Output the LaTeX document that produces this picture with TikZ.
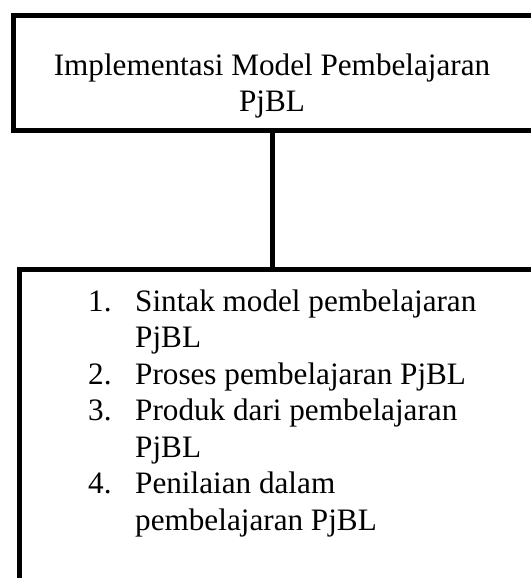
\documentclass[tikz,border=0pt]{standalone}
\usepackage{fontspec}
\setmainfont{Liberation Serif}
\newcommand{\itemno}[1]{\makebox[47bp][l]{#1}}
\begin{document}
\begin{tikzpicture}[x=1bp,y=-1bp,
    frame/.style={draw, line width=5bp, anchor=north west, inner sep=0pt, outer sep=0pt},
    label/.style={font=\fontsize{31.3}{36.6}\selectfont, inner sep=0pt},
    link/.style={draw, line width=5bp}]
    \useasboundingbox (0,0) rectangle (531,578);
    \clip (0,0) rectangle (531,578);
    % Top box
    \node[frame, minimum width=600bp, minimum height=114bp] (topbox) at (13.5,16) {};
    \node[label, align=center, anchor=base] (title) at (272,112) {Implementasi Model Pembelajaran\\PjBL};
    % Bottom box
    \node[frame, minimum width=600bp, minimum height=400bp] (listbox) at (19.5,269) {};
    \node[label, align=left, anchor=base west] (items) at (88,530) {%
        \itemno{1.}Sintak model pembelajaran\\
        \itemno{}PjBL\\
        \itemno{2.}Proses pembelajaran PjBL\\
        \itemno{3.}Produk dari pembelajaran\\
        \itemno{}PjBL\\
        \itemno{4.}Penilaian dalam\\
        \itemno{}pembelajaran PjBL};
    % Connector
    \draw[link] (title |- topbox.south) -- (title |- listbox.north);
\end{tikzpicture}
\end{document}
